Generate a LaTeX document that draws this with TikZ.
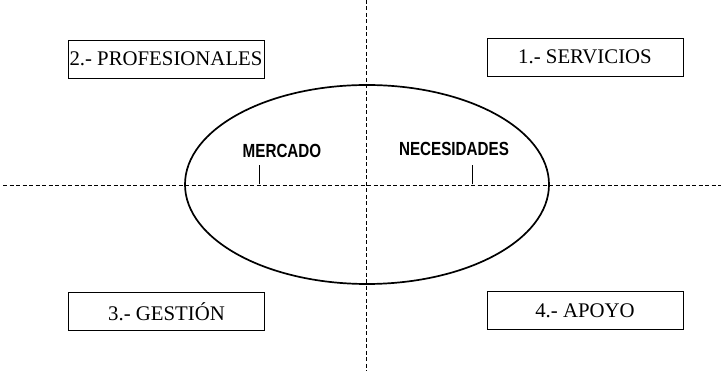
\documentclass[tikz,border=0pt]{standalone}
\usepackage{fontspec}
\setmainfont{Liberation Serif}
\newfontfamily\narrowsans[FakeStretch=0.8]{Liberation Sans}
\usetikzlibrary{positioning}

\tikzset{%
  % Specifications for style of nodes:
         area/.style = {rectangle, draw = black, line width=0.9pt, minimum width=196pt, minimum height=38pt, inner sep=1pt, font=\fontsize{20.8}{24}\selectfont},
         tag/.style = {inner sep=0pt, font=\narrowsans\bfseries\fontsize{19}{21}\selectfont},
         axis/.style = {line width=0.9pt, dash pattern=on 4pt off 2.5pt},
}

\begin{document}
\begin{tikzpicture}[x=1pt, y=-1pt]
    \useasboundingbox (0,0) rectangle (721,371);

    % Draw axes
    \draw[axis]           (3,185) -- (721,185);
    \draw[axis]           (366,0) -- (366,371);

    % Draw market
    \draw[line width=1.7pt] (367,184.5) ellipse [x radius=182, y radius=99.5];

    % Draw nodes
    \node (prof)        [area]   at (166,59)      {2.- PROFESIONALES};
    \node (serv)        [area]   at (585,57)      {1.- SERVICIOS};
    \node (gest)        [area]   at (166.5,311.5) {3.- GESTIÓN};
    \node (apoyo)       [area]   at (585,310.5)   {4.- APOYO};

    \node (mercado)     [tag]    at (282,150.5)   {MERCADO};
    \node (necesidades) [tag]    at (454,149)     {NECESIDADES};

    % Draw ticks
    \coordinate (mtick) at (259,184.5);
    \coordinate (ntick) at (472,184.5);
    \draw[line width=0.9pt]   (mtick) -- ++(0,-19);
    \draw[line width=0.9pt]   (ntick) -- ++(0,-19);

\end{tikzpicture}
\end{document}
